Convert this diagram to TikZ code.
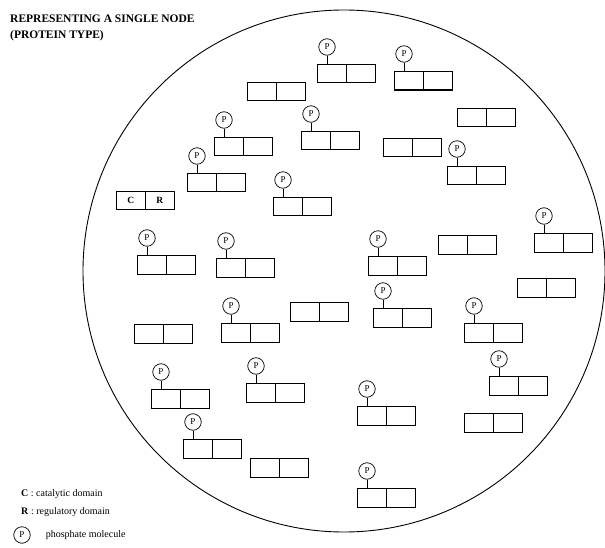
\documentclass[tikz,border=0pt]{standalone}
\usepackage{fontspec}
\setmainfont{Liberation Serif}
\usetikzlibrary{positioning}
\tikzset{
  prot/.style={draw, line width=0.8pt, anchor=north west, minimum width=58pt,
    minimum height=18.5pt, inner sep=0pt, font=\bfseries\fontsize{9.5}{9.5}\selectfont,
    path picture={\draw[line width=0.8pt] (path picture bounding box.north) -- (path picture bounding box.south);}},
  phos/.style={draw, circle, line width=0.7pt, minimum size=16.5pt, inner sep=0pt,
    font=\fontsize{9}{9}\selectfont},
  stem/.style={line width=0.8pt},
  legend/.style={anchor=west, inner sep=0pt, font=\fontsize{10}{12}\selectfont},
}
\begin{document}
\begin{tikzpicture}[x=1pt, y=-1pt]
  \useasboundingbox (0,0) rectangle (605,548);
  % title
  \node[anchor=west, inner sep=0pt, align=left, font=\bfseries\fontsize{11.5}{16}\selectfont]
    (title) at (10,28) {REPRESENTING A SINGLE NODE\\(PROTEIN TYPE)};
  % the cell
  \draw[line width=0.9pt] (344,271) circle[radius=261pt];
  % proteins (top left corner of each)
  \node[prot] (b1) at (317,64) {};
  \node[prot, line width=1.1pt] (b2) at (394,71) {};
  \node[prot] (b3) at (247,82) {};
  \node[prot] (b4) at (457,108) {};
  \node[prot] (b5) at (301,131) {};
  \node[prot] (b6) at (214,137) {};
  \node[prot] (b7) at (383,138) {};
  \node[prot] (b8) at (447,166) {};
  \node[prot] (b9) at (187,173) {};
  \node[prot] (b10) at (116,191) {\makebox[29pt]{C}\makebox[29pt]{R}};
  \node[prot] (b11) at (273,197) {};
  \node[prot] (b12) at (534,233) {};
  \node[prot] (b13) at (438,235) {};
  \node[prot] (b14) at (137,255) {};
  \node[prot] (b15) at (216,258) {};
  \node[prot] (b16) at (368,256) {};
  \node[prot] (b17) at (517,278) {};
  \node[prot] (b18) at (290,302) {};
  \node[prot] (b19) at (373,308) {};
  \node[prot] (b20) at (134,324) {};
  \node[prot] (b21) at (221,323) {};
  \node[prot] (b22) at (464,323) {};
  \node[prot] (b23) at (151,389) {};
  \node[prot] (b24) at (246,383) {};
  \node[prot] (b25) at (489,376) {};
  \node[prot] (b26) at (357,406) {};
  \node[prot] (b27) at (464,413) {};
  \node[prot] (b28) at (183,439) {};
  \node[prot] (b29) at (250,458) {};
  \node[prot] (b30) at (357,488) {};
  % phosphorylated ones
  \foreach \i in {1,2,5,6,8,9,11,12,14,15,16,19,21,22,23,24,25,26,28,30}{
    \node[phos] (p\i) at ([shift={(10pt,17pt)}]b\i.north west) {P};
    \draw[stem] (p\i) -- (p\i |- b\i.north);
  }
  % legend
  \node[legend] (lc) at (21,494) {\textbf{C} : catalytic domain};
  \node[legend] (lr) at (21,512) {\textbf{R} : regulatory domain};
  \node[phos] (lp) at (22,535) {P};
  \node[legend, right=15pt of lp] (lpt) {phosphate molecule};
\end{tikzpicture}
\end{document}
